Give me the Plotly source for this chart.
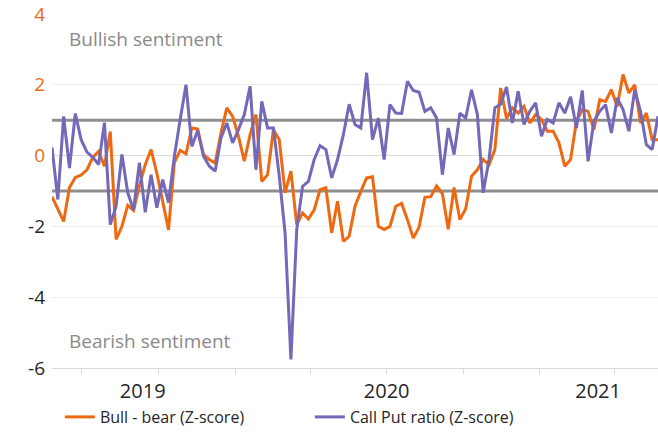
import pandas as pd
import plotly.graph_objects as go

# ---- data (weekly) ----
start_date = "2019-05-26"
bull_bear = [
    -1.16, -1.5, -1.86, -0.9, -0.62, -0.55, -0.4, -0.05, 0.12, -0.3,
    0.68, -2.37, -2.0, -1.4, -1.55, -0.85, -0.26, 0.17, -0.5, -1.3,
    -2.1, -0.2, 0.15, 0.05, 0.78, 0.75, 0.03, -0.11, -0.21, 0.64,
    1.35, 1.11, 0.55, -0.16, 0.59, 1.16, -0.73, -0.54, 0.73, 0.45,
    -1.05, -0.44, -1.95, -1.62, -1.79, -1.53, -0.96, -0.91, -2.18, -1.29,
    -2.42, -2.28, -1.43, -1.01, -0.63, -0.6, -2.0, -2.09, -2.0, -1.43,
    -1.35, -1.81, -2.33, -2.02, -1.18, -1.16, -0.86, -1.07, -2.08, -0.9,
    -1.81, -1.5, -0.58, -0.4, -0.11, -0.26, 0.17, 1.91, 1.05, 1.35,
    1.2, 1.39, 0.92, 1.16, 1.02, 0.69, 0.69, 0.36, -0.3, -0.11,
    0.97, 1.3, 1.25, 0.73, 1.58, 1.53, 1.86, 1.39, 2.29, 1.77,
    2.0, 0.92, 1.2, 0.45, 0.45,
]
call_put = [
    0.23, -1.24, 1.11, -0.35, 1.19, 0.45, 0.1, -0.05, -0.25, 0.93,
    -1.95, -1.43, 0.03, -1.05, -1.53, -0.2, -1.6, -0.54, -1.47, -0.68,
    -1.33, -0.02, 1.02, 2.0, 0.26, 0.71, -0.02, -0.3, -0.44, 0.5,
    0.92, 0.36, 0.73, 1.16, 1.96, -0.4, 1.53, 0.78, 0.78, -0.58,
    -2.18, -5.76, -2.09, -0.87, -0.73, -0.11, 0.28, 0.17, -0.63, -0.11,
    0.59, 1.45, 0.88, 0.78, 2.34, 0.45, 1.06, -0.11, 1.44, 1.2,
    1.19, 2.1, 1.84, 1.79, 1.25, 1.35, 1.06, -0.54, 0.78, 0.03,
    1.2, 1.06, 1.86, 1.16, -1.05, -0.11, 1.35, 1.45, 1.94, 0.92,
    1.82, 0.88, 1.25, 1.49, 0.55, 1.02, 0.92, 1.49, 1.2, 1.66,
    0.78, 1.84, -0.16, 0.97, 1.25, 1.44, 0.64, 1.63, 1.3, 0.69,
    1.86, 1.25, 0.31, 0.17, 1.11,
]
dates = pd.date_range(start_date, periods=len(bull_bear), freq="7D")

y_tickvals = [4, 2, 0, -2, -4, -6]
y_ticktext = [
    '<span style="color:#EE6A12">4</span>',
    '<span style="color:#EE6A12">2</span>',
    '<span style="color:#EE6A12">0</span>',
    "-2", "-4", "-6",
]
year_labels = ["2019", "2020", "2021"]
year_label_dates = ["2019-09-12", "2020-07-01", "2021-03-12"]
thresholds = [1, -1]
series_names = ["Bull - bear (Z-score)", "Call Put ratio (Z-score)"]

ORANGE = "#EE6A12"
PURPLE = "#7468B8"

fig = go.Figure()
fig.add_trace(go.Scatter(x=dates, y=bull_bear, mode="lines", name=series_names[0],
                         line=dict(color=ORANGE, width=3)))
fig.add_trace(go.Scatter(x=dates, y=call_put, mode="lines", name=series_names[1],
                         line=dict(color=PURPLE, width=3)))

for t in thresholds:
    fig.add_hline(y=t, line=dict(color="#8E8E8E", width=3), layer="below")

fig.add_annotation(text="Bullish sentiment", xref="paper", yref="y", x=0.024, y=3.28,
                   xanchor="left", yanchor="middle", showarrow=False,
                   font=dict(size=19, color="#8A8A8A", family="Open Sans"))
fig.add_annotation(text="Bearish sentiment", xref="paper", yref="y", x=0.024, y=-5.23,
                   xanchor="left", yanchor="middle", showarrow=False,
                   font=dict(size=19, color="#8A8A8A", family="Open Sans"))

fig.update_layout(
    width=658, height=434,
    margin=dict(l=52, r=0, t=14, b=66, autoexpand=False),
    plot_bgcolor="white", paper_bgcolor="white",
    font=dict(family="Open Sans", color="#262626"),
    showlegend=True,
    legend=dict(orientation="h", xref="container", x=0.091, xanchor="left",
                yref="container", y=0.0, yanchor="bottom",
                font=dict(size=16, color="#262626"),
                entrywidth=205, entrywidthmode="pixels", bgcolor="rgba(0,0,0,0)"),
    xaxis=dict(
        type="date",
        range=[dates[0], dates[-1]],
        tickvals=year_label_dates, ticktext=year_labels,
        ticks="", showgrid=False, zeroline=False,
        showline=True, linecolor="#D9D9D9", linewidth=1,
        tickfont=dict(size=20, color="#262626"),
        ticklabelstandoff=5,
        minor=dict(ticks="outside", dtick="M3", tick0="2019-01-01", ticklen=5,
                   tickcolor="#D9D9D9", showgrid=False),
    ),
    yaxis=dict(
        range=[-6, 4],
        tickvals=y_tickvals, ticktext=y_ticktext,
        showgrid=True, gridcolor="#EDEDED", gridwidth=1,
        zeroline=True, zerolinecolor="#DCDCDC", zerolinewidth=1,
        ticks="", tickfont=dict(size=19, color="#262626"),
        ticklabelstandoff=6,
    ),
)

fig.write_html("out.html", config={"displayModeBar": False},
               post_script="document.body.style.margin='0';")
